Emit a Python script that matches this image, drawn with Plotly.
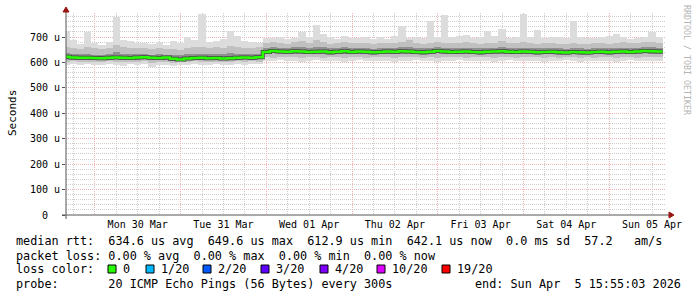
import pandas as pd
import plotly.graph_objects as go

# ---------------- data (2-hour bins starting 2026-03-29 15:00) ----------------
BIN_START = "2026-03-29 15:00"
RANGE_START = "2026-03-29 15:55:03"
RANGE_END = "2026-04-05 15:55:03"

median_us = [
    622, 619, 618, 618, 617, 616, 618, 619, 618, 617, 619, 620,
    618, 617, 619, 614, 612, 615, 617, 618, 616, 617, 615, 616,
    618, 619, 618, 620, 641, 645, 643, 642, 644, 643, 641, 642,
    643, 640, 642, 644, 641, 643, 642, 640, 641, 643, 642, 644,
    643, 641, 640, 642, 645, 643, 641, 642, 643, 641, 640, 642,
    643, 644, 642, 641, 643, 642, 640, 641, 642, 640, 639, 641,
    640, 639, 641, 642, 640, 642, 643, 641, 643, 645, 644, 643,
]
max_us = [
    722, 690, 672, 718, 675, 670, 680, 777, 688, 684, 678, 676,
    672, 680, 668, 685, 676, 699, 690, 789, 680, 686, 694, 723,
    705, 684, 680, 678, 698, 695, 700, 692, 697, 719, 702, 747,
    712, 700, 694, 703, 696, 698, 701, 694, 699, 692, 704, 743,
    697, 700, 695, 764, 702, 786, 699, 703, 708, 697, 700, 723,
    704, 730, 698, 701, 789, 700, 727, 696, 702, 699, 697, 764,
    701, 698, 695, 700, 703, 711, 699, 694, 697, 702, 718, 700,
]
min_us = [
    590, 592, 588, 594, 591, 589, 593, 590, 587, 592, 590, 594,
    582, 589, 591, 586, 588, 590, 593, 591, 589, 592, 590, 588,
    593, 591, 594, 592, 606, 604, 608, 605, 607, 603, 606, 609,
    604, 607, 605, 603, 606, 608, 604, 607, 605, 606, 603, 607,
    605, 608, 604, 606, 603, 607, 605, 609, 604, 606, 605, 607,
    603, 606, 608, 604, 606, 605, 607, 603, 606, 604, 608, 605,
    602, 606, 604, 607, 605, 603, 606, 608, 604, 606, 605, 607,
]
p10_us = [
    602, 604, 600, 603, 601, 602, 604, 603, 600, 602, 603, 605,
    598, 601, 603, 599, 600, 602, 604, 603, 601, 603, 602, 600,
    604, 602, 605, 603, 621, 619, 622, 620, 623, 618, 621, 622,
    619, 621, 620, 618, 622, 623, 619, 621, 620, 622, 618, 621,
    620, 623, 619, 621, 618, 622, 620, 623, 619, 621, 620, 622,
    618, 621, 623, 619, 621, 620, 622, 618, 621, 619, 622, 620,
    617, 621, 619, 622, 620, 618, 621, 623, 619, 621, 620, 622,
]
p30_us = [
    612, 611, 610, 611, 609, 610, 611, 612, 610, 609, 611, 612,
    608, 609, 611, 607, 606, 608, 610, 611, 609, 610, 608, 609,
    611, 612, 611, 612, 633, 636, 634, 633, 635, 634, 632, 633,
    634, 631, 633, 635, 632, 634, 633, 631, 632, 634, 633, 635,
    634, 632, 631, 633, 636, 634, 632, 633, 634, 632, 631, 633,
    634, 635, 633, 632, 634, 633, 631, 632, 633, 631, 630, 632,
    631, 630, 632, 633, 631, 633, 634, 632, 634, 636, 635, 634,
]
p70_us = [
    636, 634, 632, 635, 631, 630, 633, 640, 634, 632, 633, 632,
    630, 633, 631, 629, 628, 632, 634, 635, 632, 634, 633, 636,
    635, 634, 633, 635, 657, 660, 658, 656, 659, 660, 656, 662,
    659, 655, 657, 660, 656, 658, 657, 654, 656, 658, 657, 659,
    662, 656, 655, 657, 660, 658, 656, 657, 658, 656, 655, 657,
    658, 661, 657, 656, 658, 657, 655, 656, 657, 655, 654, 656,
    655, 654, 656, 657, 655, 657, 658, 656, 658, 660, 659, 658,
]
p90_us = [
    662, 658, 654, 660, 655, 653, 657, 668, 660, 656, 658, 655,
    652, 657, 654, 651, 650, 656, 660, 662, 656, 659, 658, 664,
    661, 658, 656, 660, 676, 680, 678, 674, 679, 684, 675, 690,
    682, 674, 677, 681, 675, 678, 676, 672, 675, 678, 676, 679,
    688, 675, 674, 676, 682, 678, 675, 677, 680, 675, 673, 677,
    678, 684, 676, 675, 679, 677, 673, 675, 677, 674, 672, 675,
    674, 672, 676, 677, 674, 677, 679, 675, 678, 682, 680, 678,
]

day_labels = ["Mon 30 Mar", "Tue 31 Mar", "Wed 01 Apr", "Thu 02 Apr",
              "Fri 03 Apr", "Sat 04 Apr", "Sun 05 Apr"]
day_dates = ["2026-03-30", "2026-03-31", "2026-04-01", "2026-04-02",
             "2026-04-03", "2026-04-04", "2026-04-05"]
y_ticks = [0, 100, 200, 300, 400, 500, 600, 700]
y_tick_text = ["0\u00a0\u00a0", "100 u", "200 u", "300 u", "400 u", "500 u", "600 u", "700 u"]

legend_rtt = "median rtt:  634.6 us avg  649.6 us max  612.9 us min  642.1 us now  0.0 ms sd  57.2   am/s"
legend_loss = "packet loss: 0.00 % avg  0.00 % max  0.00 % min  0.00 % now"
loss_labels = ["0", "1/20", "2/20", "3/20", "4/20", "10/20", "19/20"]
loss_colors = ["#26ff00", "#00b8ff", "#0059ff", "#5e00ff", "#7e00ff", "#dd00ff", "#ff0000"]
probe_text = "probe:       20 ICMP Echo Pings (56 Bytes) every 300s"
end_text = "end: Sun Apr  5 15:55:03 2026"

# ---------------- geometry ----------------
W, H = 697, 297
ML, MR, MT, MB = 66, 31, 13, 82
PW, PH = W - ML - MR, H - MT - MB
Y_TOP = 794.4


def px(x):
    return (x - ML) / PW


def py(y):
    return (H - MB - y) / PH


n = len(median_us)
starts = pd.date_range(BIN_START, periods=n, freq="2h")
centers = starts + pd.Timedelta(hours=1)
edges = list(starts) + [starts[-1] + pd.Timedelta(hours=2)]
BW = 2 * 3600 * 1000

fig = go.Figure()


def band(lo, hi, color):
    fig.add_trace(go.Bar(
        x=centers, y=[h - l for l, h in zip(lo, hi)], base=lo, width=BW,
        marker=dict(color=color, line=dict(width=0)),
        hoverinfo="skip", showlegend=False))


band(min_us, max_us, "#dcdcdc")
band(p10_us, p90_us, "#c0c0c0")
band(p30_us, p70_us, "#909090")

fig.add_trace(go.Scatter(
    x=edges, y=median_us + [median_us[-1]], mode="lines",
    line=dict(shape="hv", color="#454545", width=4),
    hoverinfo="skip", showlegend=False))
fig.add_trace(go.Scatter(
    x=edges, y=median_us + [median_us[-1]], mode="lines",
    line=dict(shape="hv", color="#26ff00", width=2.5),
    hoverinfo="skip", showlegend=False))

noons = [pd.Timestamp(d) + pd.Timedelta(hours=12) for d in day_dates]
fig.add_trace(go.Scatter(x=noons, y=[None] * len(noons), xaxis="x2",
                         mode="markers", hoverinfo="skip", showlegend=False))

MONO = "DejaVu Sans Mono"
RED_GRID = "#efb4b4"
GRAY_GRID = "#cdcdcd"
fig.update_layout(
    width=W, height=H,
    margin=dict(l=ML, r=MR, t=MT, b=MB, pad=0),
    paper_bgcolor="white", plot_bgcolor="white",
    barmode="overlay", bargap=0,
    font=dict(family=MONO, size=10, color="#000000"),
    xaxis=dict(
        type="date", range=[RANGE_START, RANGE_END],
        showgrid=True, gridcolor=RED_GRID, griddash="1px,1px", gridwidth=1,
        tick0="2026-03-30", dtick=86400000, showticklabels=False, ticks="",
        minor=dict(tick0="2026-03-30", dtick=21600000, showgrid=True,
                   gridcolor=GRAY_GRID, griddash="1px,1px", gridwidth=1),
        zeroline=False, showline=False, fixedrange=True,
    ),
    xaxis2=dict(
        type="date", range=[RANGE_START, RANGE_END], overlaying="x", anchor="y",
        side="bottom", showgrid=False, tickmode="array", tickvals=noons,
        ticktext=day_labels, ticks="", showline=False, zeroline=False,
        ticklabelstandoff=2,
        tickfont=dict(family=MONO, size=10, color="#000000"),
    ),
    yaxis=dict(
        range=[0, Y_TOP], tickmode="array", tickvals=y_ticks, ticktext=y_tick_text,
        showgrid=True, gridcolor=RED_GRID, griddash="1px,1px", gridwidth=1,
        minor=dict(dtick=20, tick0=0, showgrid=True, gridcolor=GRAY_GRID,
                   griddash="1px,1px", gridwidth=1),
        ticks="outside", ticklen=3, tickcolor="#555555", zeroline=False,
        showline=False, tickfont=dict(family=MONO, size=10, color="#000000"),
    ),
)

shapes = []
# axis lines
shapes.append(dict(type="line", xref="paper", yref="paper",
                   x0=px(66), x1=px(66), y0=py(219), y1=py(11),
                   line=dict(color="#555555", width=1)))
shapes.append(dict(type="line", xref="paper", yref="paper",
                   x0=px(62), x1=px(669), y0=py(215), y1=py(215),
                   line=dict(color="#555555", width=1)))
# arrow heads
shapes.append(dict(type="path", xref="paper", yref="paper",
                   path=f"M {px(63)} {py(12)} L {px(69)} {py(12)} L {px(66)} {py(7)} Z",
                   fillcolor="#9a1414", line=dict(color="#9a1414", width=1)))
shapes.append(dict(type="path", xref="paper", yref="paper",
                   path=f"M {px(669)} {py(212)} L {px(669)} {py(218)} L {px(674)} {py(215)} Z",
                   fillcolor="#9a1414", line=dict(color="#9a1414", width=1)))

# loss colour boxes
box_x = [108, 146, 203, 261, 320, 377, 442]
for bx, col in zip(box_x, loss_colors):
    shapes.append(dict(type="rect", xref="paper", yref="paper",
                       x0=px(bx), x1=px(bx + 8), y0=py(273), y1=py(265),
                       fillcolor=col, line=dict(color="#000000", width=1)))
fig.update_layout(shapes=shapes)

LEG = 11.8


def ann(text, x, y, size=LEG, anchor="left", color="#000000", angle=0):
    fig.add_annotation(text=text.replace(" ", "\u00a0"), xref="paper", yref="paper",
                       x=px(x), y=py(y), xanchor=anchor, yanchor="middle",
                       showarrow=False, borderpad=0, borderwidth=0, textangle=angle,
                       font=dict(family=MONO, size=size, color=color))


ann(legend_rtt, 16, 241)
ann(legend_loss, 16, 255.5)
ann("loss color:", 16, 269)
for bx, lab in zip(box_x, loss_labels):
    ann(lab, bx + 15, 269)
ann(probe_text, 16, 283.5)
ann(end_text, 681, 283.5, anchor="right")
ann("Seconds", 12, 113, size=11, anchor="center", angle=-90)
ann("RRDTOOL / TOBI OETIKER", 687, 60, size=8.3, anchor="center",
    color="#b4b4b4", angle=90)

fig.write_html("out.html")
